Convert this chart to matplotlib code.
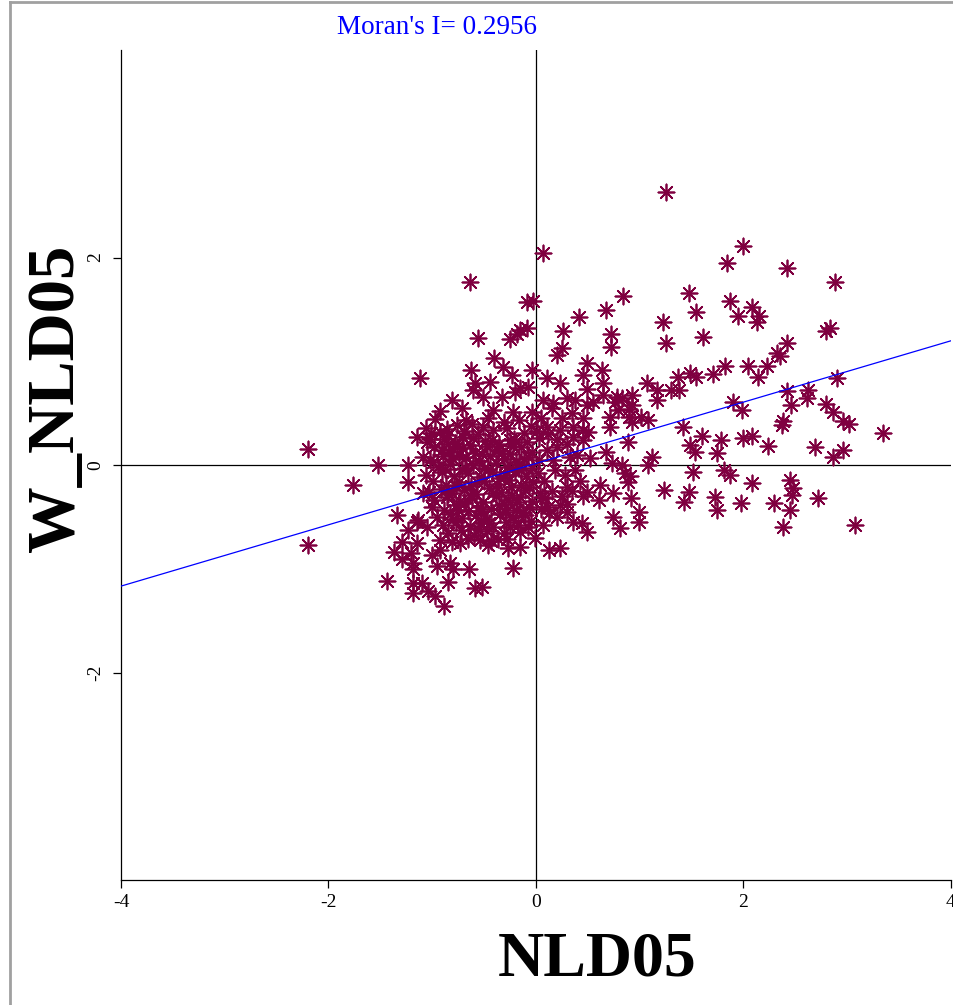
import numpy as np
import matplotlib
matplotlib.use("Agg")
import matplotlib.pyplot as plt
from matplotlib.lines import Line2D

plt.rcParams['font.family'] = ['Liberation Serif', 'DejaVu Serif']
plt.rcParams['axes.unicode_minus'] = False

moran_i = 0.2956
intercept = 0.015

# scattered points (NLD05, W_NLD05)
outer_x = [-2.20, -2.20, -1.76, -1.52, -1.23, -1.23, -1.15, -1.12,
           -1.34, -1.23, -1.29, -1.37, -1.29, -1.20, -1.19, -1.44, -1.19, -1.15,
           -1.09, -1.14, -1.15, -1.19, -1.10, -1.19, -1.04, -0.97, -0.89, -0.85, -0.95, -0.83,
           -0.80, -1.00, -0.93, -0.65, -0.59, -0.93, -0.73, -1.05,
           -0.63, -0.59, -0.61, -0.81, -0.93, -0.76, -1.06, -1.02, -0.93, -0.85, -0.91, -1.09,
           -0.99, -0.70, -0.76, -0.71, -0.67,
           -0.64, 0.07, -0.09, -0.03, 0.67, 0.41, 0.26, -0.56, -0.25, -0.18, -0.15, -0.09, 0.25,
           -0.40, -0.32, -0.23, -0.44, -0.04, 0.11, 0.23, 0.20, -0.15, -0.20, -0.08, -0.33,
           -0.51, -0.41, -0.22, -0.04, 0.07, 0.16, 0.38, 0.11, 0.23, 0.36, 0.36, -0.25, -0.51,
           0.11, 0.20, 0.33, 0.16,
           -0.22, -0.01, 0.13, 0.23, -0.15, -0.27, -0.46, -0.52, -0.54, -0.37, -0.28, -0.15,
           -0.08, 0.07, 0.13, 0.30, 0.36, 0.23, 0.09, 0.30]
outer_y = [0.15, -0.77, -0.19, 0.00, 0.00, -0.16, 0.27, 0.84,
           -0.48, -0.63, -0.74, -0.84, -0.91, -0.85, -1.00, -1.12, -1.14, -0.55,
           -0.27, -0.53, -0.75, -0.94, -1.14, -1.23, -1.21, -1.26, -1.36, -1.13, -0.97, -0.94,
           -1.00, -0.87, -0.82, -1.00, -1.19, -0.72, -0.75, -0.60,
           0.92, 0.79, 0.72, 0.63, 0.52, 0.39, 0.36, 0.25, 0.32, 0.29, 0.14, 0.08,
           0.03, 0.27, 0.17, 0.55, 0.43,
           1.76, 2.04, 1.57, 1.58, 1.49, 1.43, 1.29, 1.22, 1.21, 1.26, 1.30, 1.32, 1.13,
           1.03, 0.94, 0.87, 0.80, 0.92, 0.84, 0.79, 1.06, 0.74, 0.70, 0.75, 0.66,
           0.66, 0.53, 0.51, 0.51, 0.63, 0.60, 0.63, 0.37, 0.34, 0.37, 0.27, 0.24, 0.37,
           0.14, 0.17, 0.08, 0.05,
           -0.99, -0.70, -0.82, -0.80, -0.79, -0.80, -0.77, -1.18, -0.72, -0.71, -0.71, -0.65,
           -0.60, -0.58, -0.46, -0.45, -0.55, -0.39, -0.32, -0.21]

right_x = [0.72, 0.72, 1.25, 0.49, 0.64, 0.45, 0.65, 1.07, 1.37, 1.48, 1.54, 0.49,
           1.17, 1.30, 1.38, 1.17, 0.65, 0.78, 0.83, 0.93, 0.49, 0.55, 0.76, 0.93,
           0.79, 0.90, 0.71, 0.90, 1.01, 1.08, 0.93, 0.71, 1.42, 0.45, 0.50, 0.89,
           1.48, 1.53, 0.67, 0.45, 0.52, 1.12, 1.08, 0.73, 0.83, 0.86, 0.91, 1.51,
           0.62, 0.49, 0.61, 0.74, 0.89, 0.92, 1.23, 1.47, 1.43, 0.99, 0.99, 0.74,
           0.81, 0.44, 0.49,
           1.25, 2.00, 1.84, 0.84, 1.47, 1.54, 1.22, 1.87, 1.95, 2.08, 2.15, 2.13,
           2.42, 2.88, 2.83, 2.80,
           2.90, 2.62, 2.61, 2.80, 2.86, 2.96, 3.02, 3.34, 2.69, 2.96, 2.86, 2.72, 3.07,
           1.61, 2.42, 2.32, 2.35, 1.71, 1.82, 2.04, 2.14, 2.23, 2.42, 2.46, 1.90,
           1.99, 2.37, 2.38, 1.60, 1.78, 2.00, 2.08, 2.24, 1.74, 1.81, 1.87, 2.08,
           2.45, 2.48, 2.47, 1.73, 1.74, 1.98, 2.29, 2.45, 2.38]
right_y = [1.26, 1.14, 1.18, 0.98, 0.92, 0.87, 0.79, 0.79, 0.85, 0.89, 0.85, 0.73,
           0.72, 0.72, 0.72, 0.63, 0.67, 0.66, 0.65, 0.67, 0.58, 0.61, 0.61, 0.58,
           0.53, 0.54, 0.46, 0.46, 0.46, 0.43, 0.41, 0.37, 0.37, 0.34, 0.32, 0.22,
           0.19, 0.13, 0.13, 0.24, 0.07, 0.08, 0.00, 0.02, 0.00, -0.08, -0.11, -0.07,
           -0.19, -0.26, -0.34, -0.27, -0.16, -0.32, -0.24, -0.26, -0.36, -0.45, -0.55, -0.50,
           -0.61, -0.56, -0.65,
           2.63, 2.11, 1.95, 1.63, 1.66, 1.47, 1.38, 1.58, 1.44, 1.52, 1.44, 1.38,
           1.90, 1.76, 1.32, 1.29,
           0.84, 0.72, 0.65, 0.59, 0.51, 0.42, 0.40, 0.31, 0.17, 0.14, 0.08, -0.32, -0.58,
           1.23, 1.18, 1.08, 1.05, 0.88, 0.95, 0.95, 0.85, 0.95, 0.71, 0.58, 0.61,
           0.53, 0.39, 0.42, 0.28, 0.24, 0.26, 0.28, 0.18, 0.12, -0.05, -0.10, -0.17,
           -0.14, -0.22, -0.29, -0.31, -0.43, -0.37, -0.37, -0.43, -0.60]

# dense cluster left of / around the origin
core_x = [-0.97, -0.62, -0.46, -0.31, -0.16, -0.05,
          -1.01, -0.86, -0.69, -0.56, -0.41, -0.28, -0.12, 0.01,
          -1.05, -0.89, -0.78, -0.61, -0.49, -0.36, -0.21, -0.09, 0.03,
          -0.98, -0.84, -0.71, -0.59, -0.47, -0.37, -0.25, -0.14, -0.04,
          -1.02, -0.90, -0.80, -0.67, -0.55, -0.44, -0.31, -0.19, -0.08, 0.03,
          -0.94, -0.83, -0.71, -0.61, -0.50, -0.39, -0.28, -0.16, -0.04,
          -1.06, -0.91, -0.79, -0.66, -0.53, -0.42, -0.30, -0.20, -0.10, 0.02,
          -0.99, -0.87, -0.74, -0.63, -0.50, -0.38, -0.26, -0.14, -0.03,
          -1.03, -0.92, -0.81, -0.69, -0.58, -0.45, -0.34, -0.23, -0.11, 0.04,
          -0.98, -0.86, -0.73, -0.62, -0.51, -0.39, -0.27, -0.15, -0.04,
          -1.00, -0.89, -0.77, -0.66, -0.54, -0.43, -0.31, -0.19, -0.07, 0.05,
          -0.95, -0.83, -0.71, -0.58, -0.47, -0.35, -0.22, -0.11,
          -0.90, -0.77, -0.64, -0.53, -0.41, -0.29, -0.17, -0.05,
          -0.85, -0.72, -0.60, -0.47, -0.31,
          -0.81, -0.66, -0.43,
          0.05, 0.12, 0.20, 0.30, 0.18, 0.28, 0.38, 0.08, 0.15, 0.25, 0.35, 0.42,
          0.06, 0.12, 0.20, 0.30, 0.45, 0.40, 0.25, 0.35, 0.15, 0.30, 0.45,
          -0.85, -0.74, -0.64, -0.52, -0.42, -0.33, -0.22, -0.12,
          -0.88, -0.77, -0.68, -0.57, -0.46, -0.35, -0.24, -0.14,
          -0.85, -0.75, -0.64, -0.53, -0.41, -0.30, -0.18, -0.07,
          -0.80, -0.69, -0.56, -0.45, -0.36, -0.25, -0.13]
core_y = [0.44, 0.40, 0.45, 0.41, 0.43, 0.38,
          0.31, 0.35, 0.33, 0.30, 0.34, 0.36, 0.31, 0.33,
          0.22, 0.25, 0.21, 0.26, 0.23, 0.20, 0.25, 0.22, 0.26,
          0.17, 0.13, 0.16, 0.12, 0.18, 0.14, 0.11, 0.17, 0.13,
          0.05, 0.09, 0.06, 0.08, 0.04, 0.09, 0.06, 0.03, 0.08, 0.05,
          -0.02, 0.01, -0.04, 0.00, -0.03, 0.02, -0.02, 0.01, -0.03,
          -0.10, -0.07, -0.11, -0.08, -0.12, -0.07, -0.10, -0.06, -0.11, -0.08,
          -0.15, -0.19, -0.16, -0.20, -0.15, -0.18, -0.14, -0.19, -0.16,
          -0.26, -0.23, -0.27, -0.24, -0.28, -0.22, -0.26, -0.29, -0.24, -0.27,
          -0.34, -0.31, -0.35, -0.32, -0.36, -0.30, -0.34, -0.31, -0.35,
          -0.40, -0.43, -0.39, -0.44, -0.40, -0.42, -0.38, -0.43, -0.40, -0.42,
          -0.50, -0.47, -0.51, -0.48, -0.52, -0.47, -0.50, -0.48,
          -0.58, -0.55, -0.59, -0.56, -0.60, -0.55, -0.58, -0.54,
          -0.66, -0.63, -0.67, -0.64, -0.66,
          -0.74, -0.71, -0.73,
          0.45, 0.30, 0.25, 0.20, -0.05, -0.10, -0.05, -0.15, -0.25, -0.30, -0.25, -0.15,
          -0.31, -0.40, -0.50, -0.38, -0.30, 0.10, 0.45, 0.50, 0.55, 0.65, 0.45,
          0.20, 0.10, 0.19, 0.11, 0.24, 0.12, 0.18, 0.06,
          -0.04, -0.20, -0.03, -0.16, -0.04, -0.13, -0.21, -0.05,
          -0.28, -0.43, -0.29, -0.44, -0.27, -0.45, -0.36, -0.21,
          -0.52, -0.37, -0.62, -0.56, -0.39, -0.60, -0.45]

nld05 = np.array(outer_x + right_x + core_x)
w_nld05 = np.array(outer_y + right_y + core_y)

maroon = '#7f0040'

fig = plt.figure(figsize=(9.54, 10.05), dpi=100)
ax = fig.add_axes([121/954, 1 - 880/1005, 830/954, 830/1005])

ax.axhline(0, color='black', lw=0.9, zorder=1)
ax.axvline(0, color='black', lw=0.9, zorder=1)

ax.scatter(nld05, w_nld05, marker=(8, 2, 0), s=135, color=maroon, linewidths=1.25, zorder=2)
ax.scatter(nld05, w_nld05, marker='o', s=12, color=maroon, linewidths=0, zorder=2)

ax.axline((0, intercept), slope=moran_i, color='#0000ff', lw=0.9, zorder=3)

ax.set_xlim(-4, 4)
ax.set_ylim(-4, 4)
ax.set_xticks([-4, -2, 0, 2, 4])
ax.set_yticks([-2, 0, 2])
ax.tick_params(direction='out', length=6, width=0.9, labelsize=14, pad=4)
ax.tick_params(axis='y', labelrotation=90, pad=6)
for lab in ax.get_yticklabels():
    lab.set_va('center')

for side in ['top', 'right']:
    ax.spines[side].set_visible(False)
for side in ['left', 'bottom']:
    ax.spines[side].set_linewidth(0.9)

fig.text(437/954, 1 - 28/1005, "Moran's I= 0.2956", color='#0000ff', fontsize=19.5,
         ha='center', va='center')
fig.text(597/954, 1 - 960/1005, 'NLD05', fontsize=46, fontweight='bold',
         ha='center', va='center')
fig.text(57/954, 1 - 398/1005, 'W_NLD05', fontsize=48, fontweight='bold',
         rotation=90, ha='center', va='center')

# window frame
fig.add_artist(Line2D([10/954, 10/954], [0, 1 - 2/1005], color='#a0a0a0', lw=2,
                      transform=fig.transFigure))
fig.add_artist(Line2D([10/954, 1], [1 - 2/1005, 1 - 2/1005], color='#a0a0a0', lw=2,
                      transform=fig.transFigure))

fig.savefig('out.png', dpi=100)
